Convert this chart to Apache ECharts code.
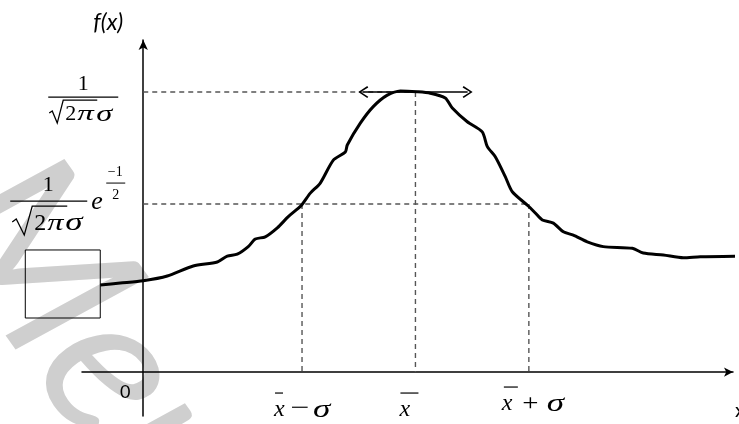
<!DOCTYPE html>
<html><head><meta charset="utf-8">
<script src="https://cdn.jsdelivr.net/npm/echarts@6/dist/echarts.min.js"></script>
<style>html,body{margin:0;padding:0;background:#fff}#c{width:739px;height:424px}</style>
</head><body><div id="c"></div>
<script>
// ---- data (x in units of sigma, y relative to peak) ----
const curveX = [-0.379, -0.203, 0, 0.212, 0.441, 0.653, 0.741, 0.829, 0.926, 0.988, 1.076, 1.182, 1.279, 1.393, 1.473, 1.561, 1.676, 1.782, 1.799, 1.914, 2.028, 2.152, 2.267, 2.416, 2.531, 2.663, 2.725, 2.857, 2.989, 3.034, 3.104, 3.192, 3.254, 3.395, 3.457, 3.519, 3.616, 3.704, 3.792, 3.915, 4.056, 4.312, 4.409, 4.586, 4.762, 4.912, 5.238];
const curveY = [0.311, 0.318, 0.326, 0.343, 0.379, 0.393, 0.414, 0.421, 0.448, 0.475, 0.483, 0.515, 0.555, 0.595, 0.639, 0.675, 0.757, 0.786, 0.811, 0.889, 0.948, 0.989, 1.004, 1.001, 0.996, 0.979, 0.943, 0.894, 0.858, 0.805, 0.769, 0.698, 0.644, 0.593, 0.568, 0.543, 0.532, 0.501, 0.489, 0.465, 0.448, 0.442, 0.425, 0.418, 0.408, 0.412, 0.414];
const meanX = 2.4;
const sigma = 1.0;
const peakLevel = 1.0;
const sigmaLevel = 0.6;
const arrowHalf = 0.46;
const xMin = -0.54, xMax = 5.2;
const yMin = -0.157, yMax = 1.186;
const xTickValues = [meanX - sigma, meanX, meanX + sigma];
const xTickLabels = ['x̄−σ', 'x̄', 'x̄+σ'];
const originLabel = '0';
const yTickValues = [peakLevel, sigmaLevel];
const yTickLabels = ['1/(√2π σ)', '1/(√2π σ) · e^(−1/2)'];
const xAxisName = 'x';
const yAxisName = 'f(x)';
const watermark = 'Mer';
const boxX = [-1.04, -0.379];
const boxY = [0.193, 0.436];

const SERIF = 'Liberation Serif';
const SANS = 'Lato';

const chart = echarts.init(document.getElementById('c'), null, {renderer: 'canvas'});

const curveData = curveX.map((x, i) => [x, curveY[i]]);
const guideSegments = [
  [[0, peakLevel], [meanX, peakLevel]],
  [[0, sigmaLevel], [meanX + sigma, sigmaLevel]],
  [[meanX - sigma, sigmaLevel], [meanX - sigma, 0]],
  [[meanX, peakLevel], [meanX, 0]],
  [[meanX + sigma, sigmaLevel], [meanX + sigma, 0]]
];
const chevron = 'path://M5,0 L10,9 L8.8,10 L5,2.6 L1.2,10 L0,9 Z';

const guideSeries = guideSegments.map(seg => ({
  type: 'line', data: seg, showSymbol: false, silent: true, z: 1,
  lineStyle: {color: '#555', width: 1.4, type: [5, 4]}
}));

chart.setOption({
  animation: false,
  backgroundColor: '#fff',
  grid: {left: 82, right: 6, top: 40, bottom: 8, containLabel: false, outerBoundsMode: 'none'},
  xAxis: {
    type: 'value', min: xMin, max: xMax,
    axisLine: {onZero: true, symbol: ['none', 'arrow'], symbolSize: [7, 9], lineStyle: {color: '#000', width: 1.5}},
    axisTick: {show: false}, axisLabel: {show: false}, splitLine: {show: false}
  },
  yAxis: {
    type: 'value', min: yMin, max: yMax,
    axisLine: {onZero: true, symbol: ['none', 'arrow'], symbolSize: [7, 10], lineStyle: {color: '#000', width: 1.5}},
    axisTick: {show: false}, axisLabel: {show: false}, splitLine: {show: false}
  },
  series: guideSeries.concat([
    {
      type: 'line', data: curveData, showSymbol: false, smooth: 0.25, clip: false, silent: true, z: 3,
      lineStyle: {color: '#000', width: 3}
    },
    {
      type: 'line', data: [], silent: true, z: 4,
      markLine: {
        silent: true, animation: false,
        symbol: [chevron, chevron], symbolSize: [12, 10],
        label: {show: false},
        lineStyle: {color: '#000', width: 1.5, type: 'solid'},
        emphasis: {disabled: true},
        data: [[{coord: [meanX - arrowHalf, peakLevel]}, {coord: [meanX + arrowHalf, peakLevel]}]]
      }
    }
  ])
});

const P = (x, y) => chart.convertToPixel({gridIndex: 0}, [x, y]);
const tx = (text, x, y, size, opt) => ({
  type: 'text', x: x, y: y, scaleX: opt.sx || 1, silent: true,
  style: {text: text, fontFamily: opt.family || SERIF, fontSize: size, fontStyle: opt.italic ? 'italic' : 'normal',
    fill: '#000', align: opt.align || 'left', verticalAlign: opt.va || 'middle'}
});
const it = (text, x, y, size, align, sx) => tx(text, x, y, size, {italic: true, align: align, sx: sx});
const up = (text, x, y, size, align, sx) => tx(text, x, y, size, {align: align, sx: sx});
const hl = (x1, x2, y, w) => ({
  type: 'line', silent: true, shape: {x1: x1, y1: y, x2: x2, y2: y},
  style: {stroke: '#000', lineWidth: w || 1.2}
});
const rad = (pts) => ({
  type: 'polyline', silent: true, shape: {points: pts},
  style: {stroke: '#000', lineWidth: 1.3, fill: null, lineJoin: 'miter'}
});

// x tick labels (math typeset pieces), anchored at each tick value on the x axis
const xLabelPieces = [
  [hl(-27, -19, 21), it('x', -28, 38, 24), up('−', -2, 37, 24, 'center', 1.4), it('σ', 11, 38, 26, 'left', 1.35)],
  [hl(-15, 3, 21), it('x', -16, 38, 24)],
  [hl(-25, -11, 15), it('x', -27, 32, 24), up('+', 1.5, 32, 24, 'center', 1.2), it('σ', 18, 32, 26, 'left', 1.35)]
];
// y tick labels, anchored at each level on the y axis
const yLabelPieces = [
  [up('1', -60, -7.4, 22, 'center'), hl(-95, -25, 5),
   rad([[-94, 21], [-91, 19], [-86, 31], [-80, 8], [-46, 8]]),
   up('2', -78, 22.6, 22), it('π', -66, 22.6, 22, 'left', 1.5), it('σ', -47, 23, 24, 'left', 1.35)],
  [up('1', -95, -19, 22, 'center'), hl(-133, -56, -3),
   rad([[-131, 18], [-127, 15], [-119, 31], [-111, 2], [-76, 2]]),
   up('2', -109, 20, 24), it('π', -96, 20, 24, 'left', 1.35), it('σ', -78, 19, 26, 'left', 1.35),
   it('e', -52, -2, 26), up('−1', -28, -32, 14, 'center'), hl(-37, -18, -21, 1), up('2', -27.5, -9, 14, 'center')]
];

const graphics = [];
// watermark (light grey, behind the chart)
graphics.push({
  type: 'text', x: -105, y: 245, rotation: -0.95, z: -10, silent: true,
  style: {text: watermark, fontFamily: SANS, fontStyle: 'italic', fontSize: 210, fill: '#cfcfcf', verticalAlign: 'bottom'}
});
xTickValues.forEach((v, i) => {
  const p = P(v, 0);
  graphics.push({type: 'group', x: p[0], y: p[1], children: xLabelPieces[i], silent: true});
});
yTickValues.forEach((v, i) => {
  const p = P(0, v);
  graphics.push({type: 'group', x: p[0], y: p[1], children: yLabelPieces[i], silent: true});
});
const o = P(0, 0);
graphics.push(tx(originLabel, o[0] - 18, o[1] + 20, 18, {family: SANS, align: 'center'}));
const yTop = P(0, yMax);
graphics.push(tx(yAxisName, yTop[0] - 20, yTop[1] - 6, 23, {family: SANS, italic: true, align: 'right', va: 'bottom'}));
const xEnd = P(xMax, 0);
graphics.push(tx(xAxisName, xEnd[0] + 2, xEnd[1] + 39, 20, {family: SANS, align: 'left'}));
const b0 = P(boxX[0], boxY[1]);
const b1 = P(boxX[1], boxY[0]);
graphics.push({type: 'rect', silent: true, shape: {x: b0[0], y: b0[1], width: b1[0] - b0[0], height: b1[1] - b0[1]},
  style: {fill: 'none', stroke: '#000', lineWidth: 1}});

chart.setOption({graphic: graphics});
</script>
</body></html>
